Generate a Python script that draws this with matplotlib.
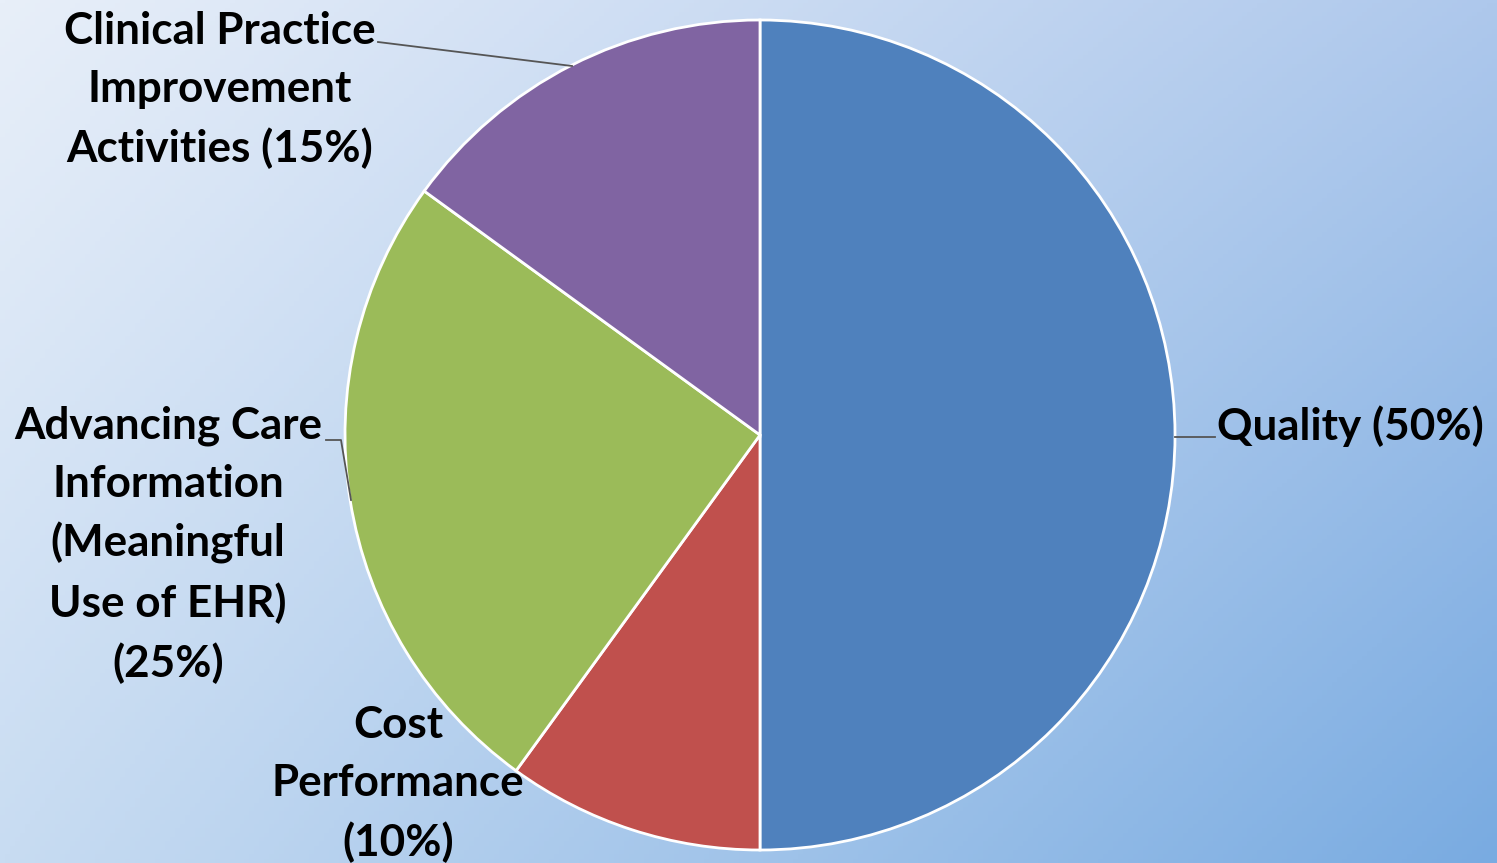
import numpy as np
import matplotlib
matplotlib.use("Agg")
import matplotlib.pyplot as plt
from matplotlib.colors import to_rgb

# ---- data ----
categories = ["Quality", "Cost Performance",
              "Advancing Care Information (Meaningful Use of EHR)",
              "Clinical Practice Improvement Activities"]
values = [50, 10, 25, 15]
labels = ["Quality (50%)",
          "Cost\nPerformance\n(10%)",
          "Advancing Care\nInformation\n(Meaningful\nUse of EHR)\n(25%)",
          "Clinical Practice\nImprovement\nActivities (15%)"]
colors = ["#4F81BD", "#C0504D", "#9BBB59", "#8064A2"]

W, H = 1497, 863
fig = plt.figure(figsize=(W / 100, H / 100), dpi=100)

# background gradient
bg = fig.add_axes([0, 0, 1, 1])
tl, tr = np.array(to_rgb("#E8EFF9")), np.array(to_rgb("#AEC8EC"))
bl, br = np.array(to_rgb("#C8DCF2")), np.array(to_rgb("#79ABE1"))
u = np.linspace(0, 1, 300)[None, :, None]
v = np.linspace(0, 1, 200)[:, None, None]
img = (1 - v) * ((1 - u) * tl + u * tr) + v * ((1 - u) * bl + u * br)
bg.imshow(img, aspect="auto", extent=[0, 1, 0, 1], origin="upper")
bg.axis("off")

ax = fig.add_axes([0, 0, 1, 1])
ax.patch.set_alpha(0)

def Y(p):
    return H - p

cx, cy, r = 760, 435, 415
ax.pie(values, colors=colors, startangle=90, counterclock=False,
       center=(cx, Y(cy)), radius=r,
       wedgeprops=dict(edgecolor="white", linewidth=2))
ax.set_xlim(0, W)
ax.set_ylim(0, H)
ax.set_aspect("equal")
ax.axis("off")

fkw = dict(fontsize=31.7, fontweight="bold", family=["Lato", "DejaVu Sans"],
           color="black", ha="center", va="center", linespacing=1.53)

# Clinical Practice
ax.text(220, Y(90), labels[3], **fkw)
ax.plot([378, 572], [Y(42), Y(66)], color="#555555", lw=1.3)
# Advancing Care
ax.text(168, Y(545), labels[2], **fkw)
ax.plot([326, 341, 351], [Y(440), Y(440), Y(500)], color="#555555", lw=1.3)
# Cost
ax.text(398, Y(784), labels[1], **fkw)
# Quality
q = dict(fkw); q["ha"] = "left"
ax.text(1217, Y(426), labels[0], **q)
ax.plot([1175, 1215], [Y(437), Y(437)], color="#555555", lw=1.3)

fig.savefig("out.png", dpi=100)
